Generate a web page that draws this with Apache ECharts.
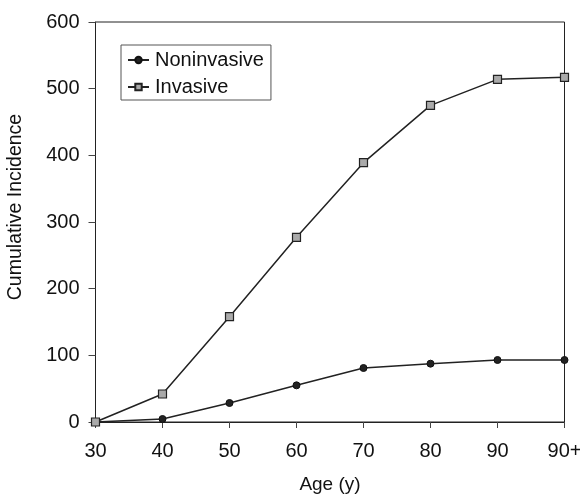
<!DOCTYPE html>
<html>
<head>
<meta charset="utf-8">
<script src="https://cdn.jsdelivr.net/npm/echarts@6/dist/echarts.min.js"></script>
<style>html,body{margin:0;padding:0;background:#fff}#c{width:580px;height:495px}</style>
</head>
<body>
<div id="c"></div>
<script>
const ages = ['30','40','50','60','70','80','90','90+'];
const noninvasive = [0, 4.5, 28.5, 55, 81, 87.5, 93, 93];
const invasive = [0, 42, 158, 277, 389, 475, 514, 517];
const yTicks = [0, 100, 200, 300, 400, 500, 600];

const font = 'Liberation Sans, Arial, sans-serif';
const chart = echarts.init(document.getElementById('c'), null, {renderer: 'canvas'});
chart.setOption({
  animation: false,
  backgroundColor: '#fff',
  grid: {left: 95.5, right: 15.5, top: 22, bottom: 73, containLabel: false, outerBoundsMode: 'none',
         show: true, borderColor: '#222', borderWidth: 1},
  legend: {
    orient: 'vertical', left: 121, top: 45,
    padding: [5, 7, 3, 6], itemGap: 7, itemWidth: 21, itemHeight: 8,
    borderColor: '#555', borderWidth: 1,
    textStyle: {fontFamily: font, fontSize: 20, color: '#111', padding: [0, 0, 0, 1]},
    data: ['Noninvasive', 'Invasive']
  },
  xAxis: {
    type: 'category', data: ages, boundaryGap: false,
    name: 'Age (y)', nameLocation: 'middle', nameGap: 53,
    nameTextStyle: {fontFamily: font, fontSize: 19, color: '#111'},
    axisLine: {lineStyle: {color: '#222', width: 1}},
    axisTick: {show: true, length: 6, inside: false, alignWithLabel: true, lineStyle: {color: '#444'}},
    axisLabel: {fontFamily: font, fontSize: 20, color: '#111', margin: 19},
    splitLine: {show: false}
  },
  yAxis: {
    type: 'value', min: yTicks[0], max: yTicks[yTicks.length - 1], interval: 100,
    name: 'Cumulative Incidence', nameLocation: 'middle', nameGap: 70, nameRotate: 90,
    nameTextStyle: {fontFamily: font, fontSize: 19.5, color: '#111', padding: [0, 0, 0, 30]},
    axisLine: {show: true, lineStyle: {color: '#222', width: 1}},
    axisTick: {show: true, length: 7, inside: false, lineStyle: {color: '#444'}},
    axisLabel: {fontFamily: font, fontSize: 20, color: '#111', margin: 16},
    splitLine: {show: false}
  },
  series: [
    {
      name: 'Noninvasive', type: 'line', data: noninvasive,
      symbol: 'circle', symbolSize: 7,
      lineStyle: {color: '#222', width: 1.5},
      itemStyle: {color: '#222', borderColor: '#111', borderWidth: 1}
    },
    {
      name: 'Invasive', type: 'line', data: invasive,
      symbol: 'rect', symbolSize: 8,
      lineStyle: {color: '#222', width: 1.5},
      itemStyle: {color: '#aaa', borderColor: '#222', borderWidth: 1.2}
    }
  ]
});
</script>
</body>
</html>
